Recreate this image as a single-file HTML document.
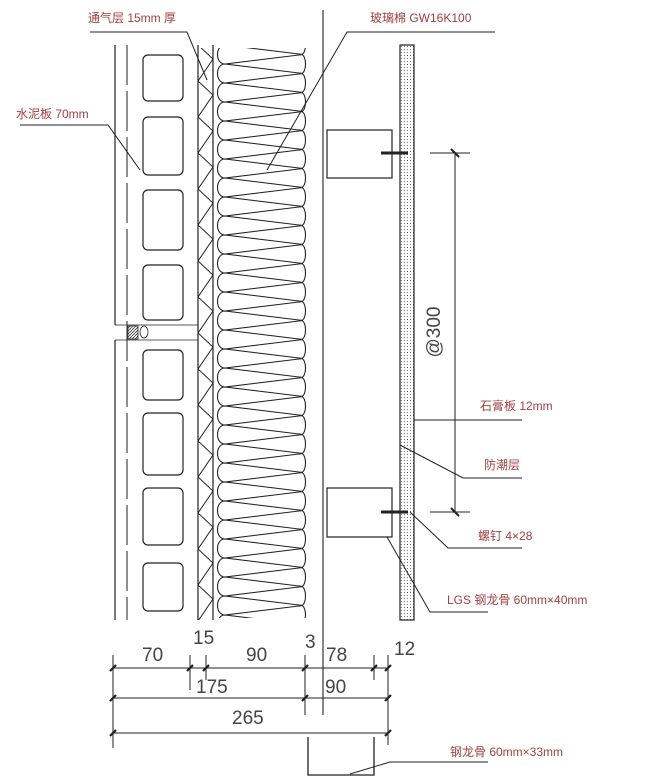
<!DOCTYPE html>
<html><head><meta charset="utf-8"><style>
html,body{margin:0;padding:0;background:#fff;}
svg{display:block;}
.lbl{font-family:"Liberation Sans","Noto Sans CJK SC",sans-serif;font-size:12px;fill:#a04040;}
.dim{font-family:"Liberation Sans",sans-serif;font-size:19px;fill:#444;}
</style></head><body>
<svg width="659" height="781" viewBox="0 0 659 781" xmlns="http://www.w3.org/2000/svg">
<defs>
<pattern id="batt" x="213" y="45" width="94" height="19" patternUnits="userSpaceOnUse">
<path d="M12,0 C2,0 2,19 12,19 M12,0 L90,9.5 L12,19" fill="none" stroke="#222" stroke-width="1.1"/>
<path d="M88,-9.5 C94,-9.5 94,9.5 88,9.5 M88,9.5 C94,9.5 94,28.5 88,28.5" fill="none" stroke="#222" stroke-width="1.1"/>
</pattern>
<pattern id="vent" x="198" y="45" width="15" height="36" patternUnits="userSpaceOnUse">
<path d="M0,0 L15,14 L0,36" fill="none" stroke="#222" stroke-width="1"/>
</pattern>
<pattern id="dots" x="400" y="0" width="3" height="3" patternUnits="userSpaceOnUse">
<circle cx="1.5" cy="1.5" r="0.6" fill="#777"/>
</pattern>
<pattern id="hatch" width="3" height="3" patternUnits="userSpaceOnUse">
<path d="M0,3 L3,0" stroke="#333" stroke-width="0.8"/>
</pattern>
</defs>
<g stroke="#222" fill="none" stroke-width="1.2">
<line x1="115" y1="45" x2="115" y2="325"/>
<line x1="115" y1="340" x2="115" y2="620"/>
<line x1="127" y1="45" x2="127" y2="620" stroke-dasharray="40,6" stroke-width="1"/>
<line x1="198" y1="45" x2="198" y2="620"/>
<line x1="115" y1="325" x2="198" y2="325" stroke-width="0.8"/>
<line x1="115" y1="340" x2="198" y2="340" stroke-width="0.8"/>
<rect x="128" y="326" width="10" height="13" fill="url(#hatch)" stroke-width="0.8"/>
<ellipse cx="144" cy="332" rx="4" ry="6" stroke-width="0.8"/>
<rect x="143" y="55" width="40" height="46" rx="5"/>
<rect x="143" y="117" width="40" height="58" rx="5"/>
<rect x="143" y="190" width="40" height="60" rx="5"/>
<rect x="143" y="265" width="40" height="55" rx="5"/>
<rect x="143" y="350" width="40" height="50" rx="5"/>
<rect x="143" y="413" width="40" height="62" rx="5"/>
<rect x="143" y="488" width="40" height="57" rx="5"/>
<rect x="143" y="563" width="40" height="48" rx="5"/>
<rect x="198" y="48" width="15" height="572" fill="url(#vent)" stroke="none"/>
<line x1="213" y1="45" x2="213" y2="620"/>
<rect x="214" y="48" width="94" height="570" fill="url(#batt)" stroke="none"/>
<line x1="323" y1="10" x2="323" y2="715" stroke-width="1.1"/>
<rect x="327" y="130" width="65" height="48"/>
<rect x="327" y="488" width="65" height="49"/>
<rect x="400" y="45" width="14" height="575" fill="url(#dots)"/>
<line x1="381" y1="153" x2="408" y2="153" stroke-width="3"/>
<line x1="381" y1="512" x2="408" y2="512" stroke-width="3"/>
<line x1="455" y1="153" x2="455" y2="512" stroke-width="1"/>
<line x1="430" y1="153" x2="470" y2="153" stroke-width="1"/>
<line x1="430" y1="512" x2="470" y2="512" stroke-width="1"/>
<line x1="451" y1="149" x2="459" y2="157" stroke-width="2"/>
<line x1="451" y1="508" x2="459" y2="516" stroke-width="2"/>
<polyline points="90,32 187,32 207,80" stroke-width="1"/>
<polyline points="495,32 347,32 267,170" stroke-width="1"/>
<polyline points="20,125 108,125 140,170" stroke-width="1"/>
<polyline points="414,420 522,420" stroke-width="1"/>
<polyline points="400,445 463,478 522,478" stroke-width="1"/>
<polyline points="410,512 448,548 522,548" stroke-width="1"/>
<polyline points="387,537 430,612 488,612" stroke-width="1"/>
<polyline points="350,774 390,762 488,762" stroke-width="1"/>
<polyline points="308,737 308,775 374,775 374,737" stroke-width="1.3"/>
<g stroke-width="1">
<line x1="113" y1="668" x2="388" y2="668"/>
<line x1="113" y1="698" x2="388" y2="698"/>
<line x1="113" y1="733" x2="388" y2="733"/>
<line x1="113" y1="655" x2="113" y2="748"/>
<line x1="190" y1="655" x2="190" y2="690"/>
<line x1="206" y1="655" x2="206" y2="680"/>
<line x1="305" y1="655" x2="305" y2="715"/>
<line x1="374" y1="655" x2="374" y2="680"/>
<line x1="388" y1="655" x2="388" y2="745"/>
</g>
<g stroke-width="2.2">
<line x1="110" y1="671" x2="116" y2="665"/><line x1="187" y1="671" x2="193" y2="665"/>
<line x1="203" y1="671" x2="209" y2="665"/><line x1="302" y1="671" x2="308" y2="665"/>
<line x1="371" y1="671" x2="377" y2="665"/><line x1="385" y1="671" x2="391" y2="665"/>
<line x1="110" y1="701" x2="116" y2="695"/><line x1="302" y1="701" x2="308" y2="695"/>
<line x1="385" y1="701" x2="391" y2="695"/>
<line x1="110" y1="736" x2="116" y2="730"/><line x1="385" y1="736" x2="391" y2="730"/>
</g>
</g>
<text class="dim" x="440" y="332" transform="rotate(-90 440 332)" text-anchor="middle">@300</text>
<text class="dim" x="142" y="661">70</text>
<text class="dim" x="193" y="644">15</text>
<text class="dim" x="246" y="661">90</text>
<text class="dim" x="305" y="648">3</text>
<text class="dim" x="326" y="661">78</text>
<text class="dim" x="394" y="655">12</text>
<text class="dim" x="196" y="693">175</text>
<text class="dim" x="325" y="693">90</text>
<text class="dim" x="232" y="724">265</text>
<text class="lbl" x="88" y="22">通气层 15mm 厚</text>
<text class="lbl" x="370" y="22">玻璃棉 GW16K100</text>
<text class="lbl" x="16" y="118">水泥板 70mm</text>
<text class="lbl" x="480" y="410">石膏板 12mm</text>
<text class="lbl" x="484" y="469">防潮层</text>
<text class="lbl" x="478" y="540">螺钉 4×28</text>
<text class="lbl" x="447" y="604">LGS 钢龙骨 60mm×40mm</text>
<text class="lbl" x="450" y="756">钢龙骨 60mm×33mm</text>
</svg>
</body></html>
